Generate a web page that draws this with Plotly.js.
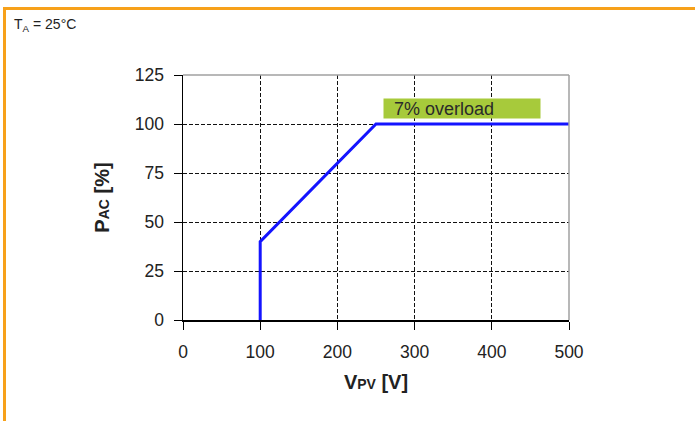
<!DOCTYPE html>
<html>
<head>
<meta charset="utf-8">
<script src="https://cdn.plot.ly/plotly-3.0.1.min.js"></script>
<style>
  html, body { margin: 0; padding: 0; background: #fff; }
  #wrap { position: relative; width: 695px; height: 421px; overflow: hidden; }
  #chart { position: absolute; left: 0; top: 0; width: 695px; height: 421px; }
  #btop { position: absolute; left: 3px; top: 7px; width: 692px; height: 3px; background: #f7a11a; }
  #bleft { position: absolute; left: 3px; top: 7px; width: 3px; height: 414px; background: #f7a11a; }
</style>
</head>
<body>
<div id="wrap">
  <div id="chart"></div>
  <div id="btop"></div>
  <div id="bleft"></div>
</div>
<script>
// Data
const vpv = [100, 100, 250, 500];        // V_PV [V]
const pac = [0, 40, 100, 100];           // P_AC [%]
const xTicks = [0, 100, 200, 300, 400, 500];
const yTicks = [0, 25, 50, 75, 100, 125];
const overloadLabel = '7% overload';
const conditionLabel = 'T<sub>A</sub> = 25°C';

const FONT = 'Arial, "Liberation Sans", sans-serif';

const trace = {
  x: vpv, y: pac, type: 'scatter', mode: 'lines',
  line: { color: '#1414ff', width: 3 },
  hoverinfo: 'skip', showlegend: false
};

const layout = {
  width: 695, height: 421,
  margin: { l: 183, r: 126, t: 75, b: 101 },
  paper_bgcolor: '#ffffff', plot_bgcolor: '#ffffff',
  font: { family: FONT, color: '#222' },
  showlegend: false,
  xaxis: {
    range: [0, 500], tickvals: xTicks, ticktext: xTicks.map(String),
    showline: true, linecolor: '#000', linewidth: 1.5,
    ticks: 'outside', ticklen: 8, tickcolor: '#000', tickwidth: 1,
    ticklabelstandoff: 7,
    showgrid: true, gridcolor: '#111', gridwidth: 1, griddash: '4px,2px',
    zeroline: false, fixedrange: true,
    tickfont: { family: FONT, size: 17.5, color: '#222' },
    title: { text: '<b>V<span style="font-size:14px">PV</span> [V]</b>', font: { family: FONT, size: 20, color: '#222' }, standoff: 14 },
    automargin: false
  },
  yaxis: {
    range: [0, 125], tickvals: yTicks, ticktext: yTicks.map(String),
    showline: true, linecolor: '#000', linewidth: 1.5,
    ticks: 'outside', ticklen: 8, tickcolor: '#000', tickwidth: 1,
    ticklabelstandoff: 6,
    showgrid: true, gridcolor: '#111', gridwidth: 1, griddash: '4px,2px',
    zeroline: false, fixedrange: true,
    tickfont: { family: FONT, size: 17.5, color: '#222' },
    title: { text: '<b>P<span style="font-size:14px">AC</span> [%]</b>', font: { family: FONT, size: 20, color: '#222' }, standoff: 20 },
    automargin: false
  },
  shapes: [
    { type: 'line', xref: 'paper', yref: 'paper', x0: 0, x1: 1, y0: 1, y1: 1, line: { color: '#a0a0a0', width: 1.5 } },
    { type: 'line', xref: 'paper', yref: 'paper', x0: 1, x1: 1, y0: 0, y1: 1, line: { color: '#a0a0a0', width: 1.5 } }
  ],
  annotations: [
    {
      text: '&nbsp;&nbsp;' + overloadLabel, x: 259, y: 108, xref: 'x', yref: 'y',
      xanchor: 'left', yanchor: 'middle', showarrow: false,
      width: 156, height: 19, align: 'left', bgcolor: '#a7ca3b', borderpad: 0,
      font: { family: FONT, size: 18, color: '#2a2a2a' }
    },
    {
      text: conditionLabel, x: -0.443, y: 1.204, xref: 'paper', yref: 'paper',
      xanchor: 'left', yanchor: 'middle', showarrow: false,
      font: { family: FONT, size: 14, color: '#222' }
    }
  ]
};

Plotly.newPlot('chart', [trace], layout, { displayModeBar: false, staticPlot: true });
</script>
</body>
</html>
